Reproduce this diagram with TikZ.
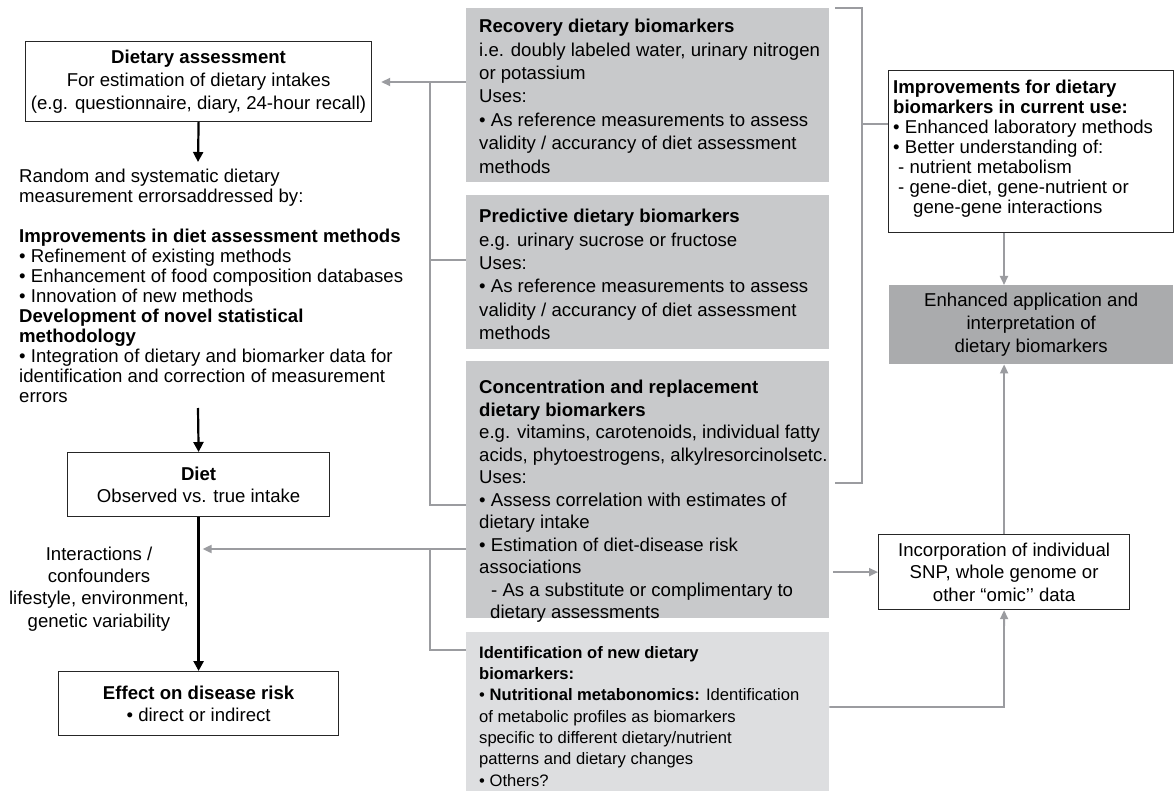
\documentclass[tikz,border=0pt]{standalone}
\usepackage{fontspec}
\setmainfont{Liberation Sans}
\usetikzlibrary{arrows.meta,calc}
\definecolor{gfill}{HTML}{C8C9CB}
\definecolor{lfill}{HTML}{DDDEE0}
\definecolor{dfill}{HTML}{AAABAD}
\definecolor{glin}{HTML}{9B9CA0}
\newcommand{\fz}[1]{\fontsize{18.6}{#1}\selectfont}
\newcommand{\fzs}[1]{\fontsize{16.6}{#1}\selectfont}
\begin{document}
\begin{tikzpicture}[x=1pt,y=-1pt,
  wbox/.style={draw=black!85, line width=1.2pt, fill=white, inner sep=0pt, anchor=north west, align=center},
  gbox/.style={draw=none, inner sep=0pt, anchor=north west},
  txt/.style={inner sep=0pt, anchor=north west, align=left},
  gl/.style={draw=glin, line width=1.8pt},
  ga/.style={gl, -{Triangle[length=9pt,width=8pt]}},
  ba/.style={line width=2.2pt, -{Triangle[length=10pt,width=10pt]}}]
\useasboundingbox (0,0) rectangle (1174,791);
\fill[white] (0,0) rectangle (1174,791);

% left column
\node[wbox, minimum width=346pt, minimum height=80pt, font={\fz{23}}] (da) at (25,41)
  {\textbf{Dietary assessment}\\For estimation of dietary intakes\\(e.g. questionnaire, diary, 24-hour recall)};
\node[txt, font={\fz{20}}] (lt) at (19,169)
  {Random and systematic dietary\\measurement errorsaddressed by:\\[20pt]
   \textbf{Improvements in diet assessment methods}\\
   • Refinement of existing methods\\
   • Enhancement of food composition databases\\
   • Innovation of new methods\\
   \textbf{Development of novel statistical}\\
   \textbf{methodology}\\
   • Integration of dietary and biomarker data for\\
   identification and correction of measurement\\
   errors};
\node[wbox, minimum width=262pt, minimum height=64pt, font={\fz{22}}] (diet) at (67,452)
  {\textbf{Diet}\\Observed vs. true intake};
\node[wbox, minimum width=280pt, minimum height=64pt, font={\fz{22}}] (eff) at (58,671)
  {\textbf{Effect on disease risk}\\• direct or indirect};
\node[inner sep=0pt, align=center, font={\fz{22.3}}] (inter) at (99,589)
  {Interactions /\\confounders\\lifestyle, environment,\\genetic variability};

\coordinate (a1) at (198,162);
\coordinate (a2) at (198,408);
\draw[ba] (da.south) -- (a1);
\draw[ba] (a2) -- (diet.north);
\draw[ba, line width=2.8pt] (diet.south) -- (eff.north);

% centre column
\node[gbox, fill=gfill, minimum width=363pt, minimum height=174pt] (rec) at (466,8) {};
\node[txt, font={\fz{23.4}}] (rect) at (479,19)
  {\textbf{Recovery dietary biomarkers}\\
   i.e. doubly labeled water, urinary nitrogen\\
   or potassium\\
   Uses:\\
   • As reference measurements to assess\\
   validity / accurancy of diet assessment\\
   methods};
\node[gbox, fill=gfill, minimum width=363pt, minimum height=154pt] (pred) at (466,195) {};
\node[txt, font={\fz{23.4}}] (predt) at (479,209)
  {\textbf{Predictive dietary biomarkers}\\
   e.g. urinary sucrose or fructose\\
   Uses:\\
   • As reference measurements to assess\\
   validity / accurancy of diet assessment\\
   methods};
\node[gbox, fill=gfill, minimum width=363pt, minimum height=257pt] (conc) at (466,361) {};
\node[txt, font={\fz{22.5}}] (conct) at (479,380)
  {\textbf{Concentration and replacement}\\
   \textbf{dietary biomarkers}\\
   e.g. vitamins, carotenoids, individual fatty\\
   acids, phytoestrogens, alkylresorcinolsetc.\\
   Uses:\\
   • Assess correlation with estimates of\\
   dietary intake\\
   • Estimation of diet-disease risk\\
   associations\\
   \hspace*{12pt}- As a substitute or complimentary to\\
   \hspace*{11pt}dietary assessments};
\node[gbox, fill=lfill, minimum width=363pt, minimum height=159pt] (ident) at (466,632) {};
\node[txt, font={\fzs{21.3}}] (identt) at (479,646)
  {\textbf{Identification of new dietary}\\
   \textbf{biomarkers:}\\
   • \textbf{Nutritional metabonomics:} Identification\\
   of metabolic profiles as biomarkers\\
   specific to different dietary/nutrient\\
   patterns and dietary changes\\
   • Others?};

% right column
\node[wbox, minimum width=285pt, minimum height=162pt] (impr) at (888,70) {};
\node[txt, font={\fz{20}}] (imprt) at (893,80)
  {\textbf{Improvements for dietary}\\
   \textbf{biomarkers in current use:}\\
   • Enhanced laboratory methods\\
   • Better understanding of:\\
   \hspace*{5pt}- nutrient metabolism\\
   \hspace*{5pt}- gene-diet, gene-nutrient or\\
   \hspace*{20pt}gene-gene interactions};
\node[gbox, fill=dfill, minimum width=284pt, minimum height=79pt, align=center, font={\fz{23}}] (enh) at (889,285)
  {Enhanced application and\\interpretation of\\dietary biomarkers};
\node[wbox, minimum width=251pt, minimum height=75pt, font={\fz{22.5}}] (inc) at (878,534)
  {Incorporation of individual\\SNP, whole genome or\\other “omic’’ data};

% grey connectors, left bracket
\coordinate (j1) at (430,82);
\coordinate (j3) at (430,260);
\coordinate (j2) at (430,505);
\draw[gl] (j1 -| rec.west) -- (j1) -- (j2) -- (j2 -| conc.west);
\draw[gl] (j3) -- (j3 -| pred.west);
\draw[ga, shorten >=9pt] (j1) -- (j1 -| da.east);

\coordinate (k1) at (430,549);
\coordinate (k2) at (430,650);
\draw[ga, shorten >=4pt] (k1 -| conc.west) -- (k1 -| diet.south);
\draw[gl] (k2 -| ident.west) -- (k2) -- (k1);

% right bracket
\coordinate (b0) at (835,8);
\coordinate (b1) at (862,8);
\coordinate (bm) at (862,124);
\coordinate (b2) at (862,483);
\coordinate (b3) at (835,483);
\draw[gl] (b0) -- (b1) -- (b2) -- (b3);
\draw[gl] (bm) -- (bm -| impr.west);

% right arrows
\coordinate (ax) at (1004,0);
\draw[ga] (ax |- impr.south) -- (ax |- enh.north);
\draw[ga] (inc.north) -- (inc.north |- enh.south);
\draw[ga, shorten <=4pt] (inc.west -| conc.east) -- (inc.west);
\coordinate (c1) at (1004,707);
\draw[ga] (c1 -| ident.east) -- (c1) -- (inc.south);
\end{tikzpicture}
\end{document}
